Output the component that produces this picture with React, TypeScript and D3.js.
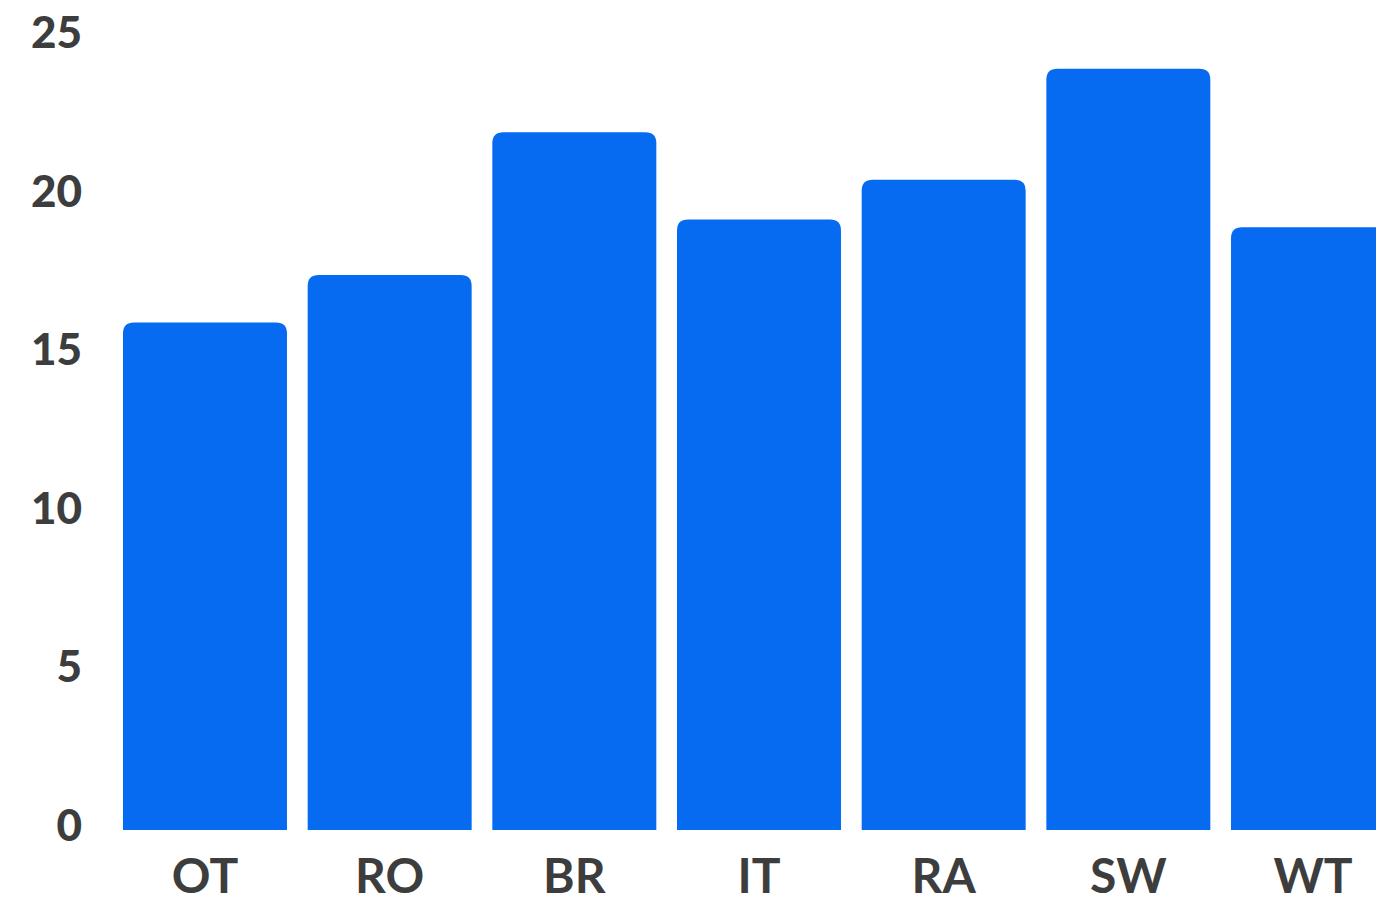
import React from "react";
import * as d3 from "d3";

const categories = ["OT", "RO", "BR", "IT", "RA", "SW", "WT"];
const values = [16.0, 17.5, 22.0, 19.25, 20.5, 24.0, 19.0];
const yTicks = [0, 5, 10, 15, 20, 25];

const W = 1376;
const H = 902;

function topRoundedRect(x: number, y: number, w: number, h: number, r: number) {
  const rr = Math.min(r, w / 2, h);
  return `M${x},${y + h}V${y + rr}Q${x},${y} ${x + rr},${y}H${x + w - rr}Q${x + w},${y} ${x + w},${y + rr}V${y + h}Z`;
}

export default function App() {
  const x = d3.scaleBand<string>().domain(categories).range([123, 1395]).paddingInner(0.112).paddingOuter(0);
  const y = d3.scaleLinear().domain([0, 25]).range([830, 37]);
  const font = "Lato, 'Open Sans', sans-serif";
  return (
    <svg width={W} height={H} style={{ position: "absolute", left: 0, top: 0, display: "block" }}>
      <rect x={0} y={0} width={W} height={H} fill="#ffffff" />
      {categories.map((c, i) => (
        <path key={c} d={topRoundedRect(x(c)!, y(values[i]), x.bandwidth(), y(0) - y(values[i]), 11)} fill="#076bf2" />
      ))}
      {yTicks.map((t) => (
        <text key={t} x={82} y={y(t) - 6} textAnchor="end" dominantBaseline="central" fontFamily={font} fontWeight={900} fontSize={44} fill="#3d3d3d">
          {t}
        </text>
      ))}
      {categories.map((c) => (
        <text key={c} x={x(c)! + x.bandwidth() / 2} y={893} textAnchor="middle" fontFamily={font} fontWeight={700} fontSize={48} fill="#3d3d3d">
          {c}
        </text>
      ))}
    </svg>
  );
}
